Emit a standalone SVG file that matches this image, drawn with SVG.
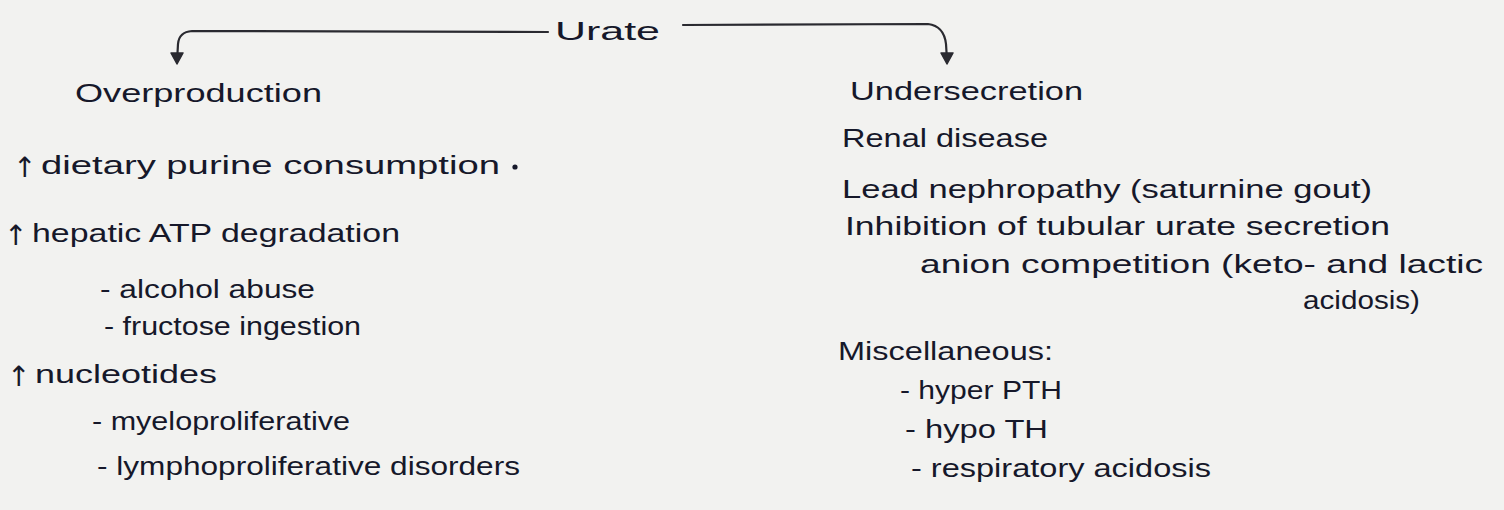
<svg xmlns="http://www.w3.org/2000/svg" width="1504" height="510" viewBox="0 0 1504 510">
<style>
  .t { font-family: "Liberation Sans", "DejaVu Sans", sans-serif; font-size: 25px; fill: #16182a; }
  .up { font-family: "DejaVu Sans", "Liberation Sans", sans-serif; font-size: 28px; fill: #16182a; }
  .c { fill: none; stroke: #2a2a30; stroke-width: 2.2; stroke-linecap: round; stroke-linejoin: round; }
  .ah { fill: #2a2a30; stroke: #2a2a30; stroke-width: 1.5; stroke-linejoin: round; }
</style>
<rect width="1504" height="510" fill="#f2f2f0"/>

<g id="connectors">
  <path class="c" d="M548 32 L192 31 Q179 32 178 44 L177 62"/>
  <path class="ah" d="M171 53 L177 64 L183 53 Z"/>
  <path class="c" d="M683 25 L928 24 Q944 26 946 44 L947 60"/>
  <path class="ah" d="M941 53 L947 64 L953 53 Z"/>
</g>

<g id="urate"><text class="t" x="555" y="40" textLength="105" lengthAdjust="spacingAndGlyphs">Urate</text></g>

<g id="overproduction"><text class="t" x="75" y="102" textLength="247" lengthAdjust="spacingAndGlyphs">Overproduction</text></g>
<g id="dietary">
  <text class="up" x="13" y="177">↑</text>
  <text class="t" x="41" y="174" textLength="459" lengthAdjust="spacingAndGlyphs">dietary purine consumption</text>
  <circle cx="515" cy="167" r="2.6" fill="#16182a"/>
</g>
<g id="hepatic">
  <text class="up" x="4" y="245">↑</text>
  <text class="t" x="32" y="242" textLength="368" lengthAdjust="spacingAndGlyphs">hepatic ATP degradation</text>
</g>
<g id="alcohol"><text class="t" x="100" y="298" textLength="215" lengthAdjust="spacingAndGlyphs">- alcohol abuse</text></g>
<g id="fructose"><text class="t" x="104" y="335" textLength="257" lengthAdjust="spacingAndGlyphs">- fructose ingestion</text></g>
<g id="nucleotides">
  <text class="up" x="7" y="386">↑</text>
  <text class="t" x="35" y="383" textLength="182" lengthAdjust="spacingAndGlyphs">nucleotides</text>
</g>
<g id="myelo"><text class="t" x="92" y="430" textLength="258" lengthAdjust="spacingAndGlyphs">- myeloproliferative</text></g>
<g id="lympho"><text class="t" x="97" y="475" textLength="423" lengthAdjust="spacingAndGlyphs">- lymphoproliferative disorders</text></g>

<g id="undersecretion"><text class="t" x="850" y="100" textLength="233" lengthAdjust="spacingAndGlyphs">Undersecretion</text></g>
<g id="renal"><text class="t" x="842" y="147" textLength="206" lengthAdjust="spacingAndGlyphs">Renal disease</text></g>
<g id="lead"><text class="t" x="842" y="198" textLength="530" lengthAdjust="spacingAndGlyphs">Lead nephropathy (saturnine gout)</text></g>
<g id="inhibition"><text class="t" x="845" y="235" textLength="545" lengthAdjust="spacingAndGlyphs">Inhibition of tubular urate secretion</text></g>
<g id="anion">
  <text class="t" x="920" y="273" textLength="563" lengthAdjust="spacingAndGlyphs">anion competition (keto- and lactic</text>
  <text class="t" x="1303" y="309" textLength="117" lengthAdjust="spacingAndGlyphs">acidosis)</text>
</g>
<g id="misc"><text class="t" x="838" y="360" textLength="215" lengthAdjust="spacingAndGlyphs">Miscellaneous:</text></g>
<g id="hyperpth"><text class="t" x="900" y="399" textLength="162" lengthAdjust="spacingAndGlyphs">- hyper PTH</text></g>
<g id="hypoth"><text class="t" x="905" y="438" textLength="143" lengthAdjust="spacingAndGlyphs">- hypo TH</text></g>
<g id="resp"><text class="t" x="911" y="477" textLength="300" lengthAdjust="spacingAndGlyphs">- respiratory acidosis</text></g>
</svg>
